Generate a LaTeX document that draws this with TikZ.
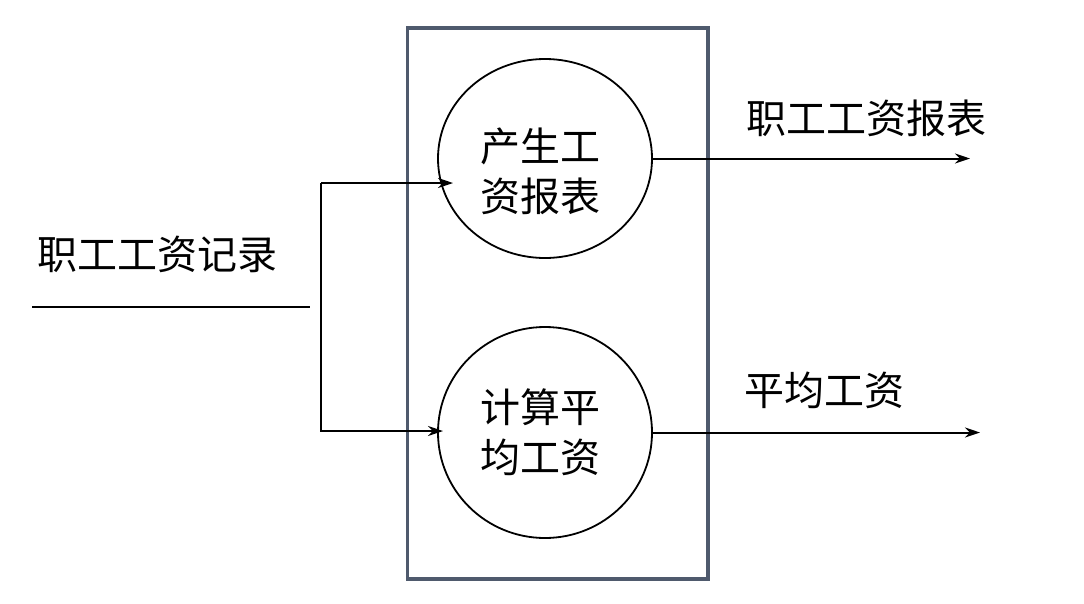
\documentclass[tikz,border=0pt]{standalone}
\usepackage{fontspec}
\setmainfont{Noto Sans CJK SC}
\usepackage{tikz}
\usetikzlibrary{arrows.meta,shapes.geometric}
\definecolor{boxslate}{HTML}{4F5A6D}

\begin{document}
\begin{tikzpicture}[x=1pt,y=-1pt,line width=2pt,
    >={Stealth[length=15pt,width=10pt,inset=5pt]},
    proc/.style={draw,ellipse,line width=1.8pt,minimum width=214pt,inner sep=0pt},
    word/.style={font=\fontsize{40}{50}\selectfont,inner sep=0pt,align=center}]
  \useasboundingbox (0,0) rectangle (1084,603);
  \draw[boxslate,line width=3.5pt] (407.5,28) rectangle (708,579);
  \node[proc,minimum height=199pt] (gen) at (545,158.5) {};
  \node[proc,minimum height=211pt] (avg) at (545,432.5) {};
  \node[word] (gentext) at (540,171) {产生工\\资报表};
  \node[word] (avgtext) at (540,432) {计算平\\均工资};
  \node[word] (inlab) at (157.5,254) {职工工资记录};
  \node[word] (outlabtop) at (866,118) {职工工资报表};
  \node[word] (outlabbot) at (824,390) {平均工资};
  \coordinate (inl) at (32,306.5);
  \coordinate (inr) at (310,306.5);
  \coordinate (forktop) at (321,183);
  \coordinate (forkbot) at (321,431);
  \coordinate (tiptop) at (453,183);
  \coordinate (tipbot) at (443,431);
  \coordinate (outtop) at (970,158.5);
  \coordinate (outbot) at (980,432.5);
  \draw (inl) -- (inr);
  \draw[->] (forktop) -- (tiptop);
  \draw[->] (forktop) -- (forkbot) -- (tipbot);
  \draw[->] (gen.east) -- (outtop);
  \draw[->] (avg.east) -- (outbot);
\end{tikzpicture}
\end{document}
